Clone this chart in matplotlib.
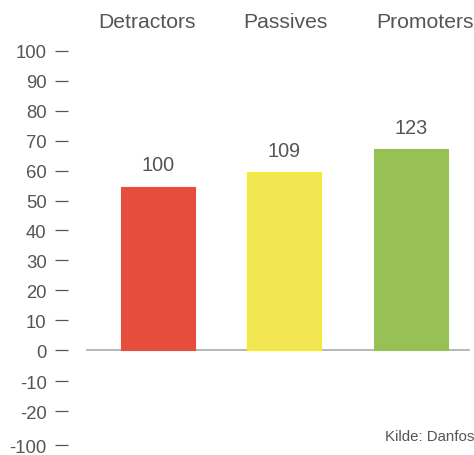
import matplotlib
matplotlib.use("Agg")
import matplotlib.pyplot as plt

plt.rcParams['font.family'] = ['Liberation Sans', 'DejaVu Sans']

# NPS groups and their index values
groups = ['Detractors', 'Passives', 'Promoters']
index_values = [100, 109, 123]
bar_colors = ['#e64d3d', '#f2e652', '#97c055']
edge_colors = ['#e64d3d', '#f7ee1e', '#97c055']

# y-axis scale labels
tick_labels = ['100', '90', '80', '70', '60', '50', '40', '30', '20', '10', '0', '-10', '-20', '-100']
tick_pos = [183.5, 165.1, 146.8, 128.4, 110.1, 91.7, 73.4, 55.0, 36.7, 18.4, 0, -19.2, -37.6, -58.3]

source = 'Kilde: Danfoss'
text_col = '#555555'

fig = plt.figure(figsize=(4.74, 4.56), dpi=100)
ax = fig.add_axes([68 / 474, 0, 406 / 474, 1])
ax.set_xlim(-0.711, 2.498)
ax.set_ylim(-64.4, 215.3)

x = range(len(groups))
bars = ax.bar(x, index_values, width=0.585, color=bar_colors,
              edgecolor=edge_colors, linewidth=0.8, zorder=3)
ax.axhline(0, xmin=0.046, xmax=0.987, color='#aaaaaa', lw=1.2, zorder=2)

for b, v in zip(bars, index_values):
    ax.annotate(str(v), (b.get_x() + b.get_width() / 2, v),
                xytext=(0, 12), textcoords='offset points',
                ha='center', va='baseline', fontsize=14.3, color=text_col)

# group names along the top
label_x = [-0.09, 1.01, 2.11]
for lx, g in zip(label_x, groups):
    ax.text(lx, 1 - 28 / 456, g, transform=ax.get_xaxis_transform(),
            ha='center', va='baseline', fontsize=15.2, color=text_col)

ax.set_yticks(tick_pos)
ax.set_yticklabels(tick_labels)
ax.tick_params(axis='y', direction='out', length=9.4, width=0.9,
               color=text_col, pad=6, labelsize=13.3, labelcolor=text_col)
ax.set_xticks([])
for s in ax.spines.values():
    s.set_visible(False)

fig.text(385 / 474, 1 - 441 / 456, source, ha='left', va='baseline',
         fontsize=10.8, color=text_col)

fig.savefig('out.png', dpi=100)
